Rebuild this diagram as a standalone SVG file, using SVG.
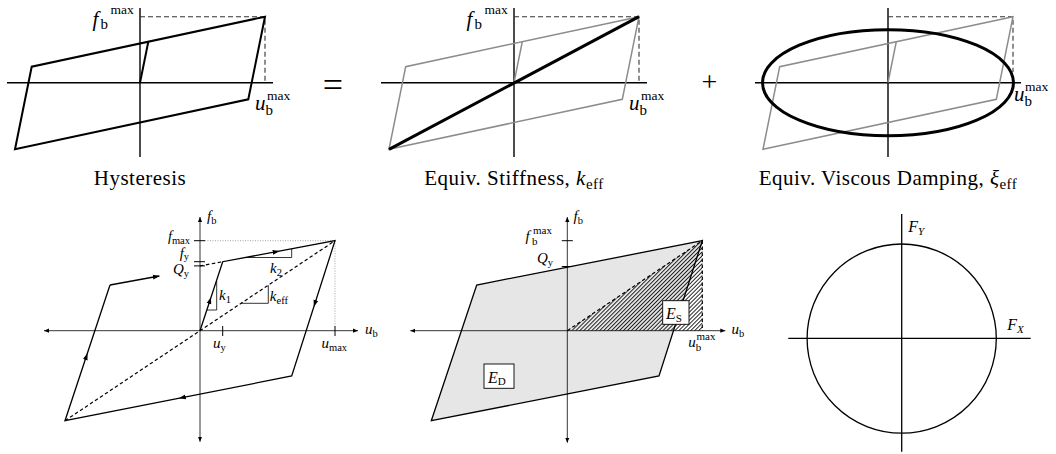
<svg xmlns="http://www.w3.org/2000/svg" width="1056" height="454" viewBox="0 0 1056 454">
<defs>
<style>
text { font-family: "Liberation Serif", "Times New Roman", serif; fill: #000; }
.it { font-style: italic; }
.cap { font-size: 21px; letter-spacing: 0.5px; }
.ax { stroke: #000; stroke-width: 1.4; fill: none; }
.loop { stroke: #000; stroke-width: 2; fill: none; }
.gray { stroke: #8c8c8c; stroke-width: 1.5; fill: none; }
.dash { stroke: #333; stroke-width: 1.1; stroke-dasharray: 5 3; fill: none; }
.thick { stroke: #000; stroke-width: 3; fill: none; }
.ax2 { stroke: #000; stroke-width: 0.8; fill: none; }
.loop2 { stroke: #000; stroke-width: 1.3; fill: none; }
.dash2 { stroke: #000; stroke-width: 1.2; stroke-dasharray: 3.5 2.5; fill: none; }
.dot { stroke: #999; stroke-width: 0.9; stroke-dasharray: 1 1.5; fill: none; }
.tick { stroke: #000; stroke-width: 1; fill: none; }
.thin { stroke: #000; stroke-width: 0.8; fill: none; }
.box { fill: #fff; stroke: #000; stroke-width: 0.9; }
</style>
<marker id="ah" markerUnits="userSpaceOnUse" markerWidth="6" markerHeight="6" refX="5" refY="3" orient="auto-start-reverse"><path d="M0,0.9 L5,3 L0,5.1 z" fill="#000"/></marker>
<marker id="am" markerUnits="userSpaceOnUse" markerWidth="8" markerHeight="8" refX="4" refY="4" orient="auto"><path d="M0,1.6 L7,4 L0,6.4 z" fill="#000"/></marker>
<marker id="ae" markerUnits="userSpaceOnUse" markerWidth="8" markerHeight="8" refX="6.5" refY="4" orient="auto"><path d="M0,1.6 L7,4 L0,6.4 z" fill="#000"/></marker>
<pattern id="hatch" patternUnits="userSpaceOnUse" width="2.8" height="2.8" patternTransform="rotate(45)"><line x1="0.5" y1="0" x2="0.5" y2="2.8" stroke="#000" stroke-width="0.85"/></pattern>
</defs>

<!-- Panel 1: Hysteresis -->
<g id="hysteresis">
<line class="ax" x1="7" y1="82.7" x2="273" y2="82.7"/>
<line class="ax" x1="140" y1="8" x2="140" y2="157"/>
<path class="dash" d="M140,16.7 H265 V82.7"/>
<polygon class="loop" points="265,16.7 248.3,99.3 15,149.3 31.7,66.7"/>
<line class="loop" x1="140" y1="82.7" x2="148.3" y2="41.7"/>
<text x="92.5" y="26" font-size="21" class="it">f</text>
<text x="100.5" y="28.5" font-size="15">b</text>
<text x="110.5" y="13.5" font-size="13.5">max</text>
<text x="255" y="110" font-size="21" class="it">u</text>
<text x="265.5" y="114.5" font-size="15">b</text>
<text x="267" y="100" font-size="13.5">max</text>
<text x="140" y="185" class="cap" text-anchor="middle">Hysteresis</text>
</g>

<text id="equals" x="333" y="96.5" font-size="36" text-anchor="middle">=</text>

<!-- Panel 2: Equivalent stiffness -->
<g id="stiffness">
<g transform="translate(374,0)">
<line class="ax" x1="7" y1="82.7" x2="273" y2="82.7"/>
<line class="ax" x1="140" y1="8" x2="140" y2="157"/>
<path class="dash" d="M140,16.7 H265 V82.7"/>
<polygon class="gray" points="265,16.7 248.3,99.3 15,149.3 31.7,66.7"/>
<line class="gray" x1="140" y1="82.7" x2="148.3" y2="41.7"/>
<line class="thick" x1="15" y1="149.3" x2="265" y2="16.7"/>
<text x="92.5" y="26" font-size="21" class="it">f</text>
<text x="100.5" y="28.5" font-size="15">b</text>
<text x="110.5" y="13.5" font-size="13.5">max</text>
<text x="255" y="110" font-size="21" class="it">u</text>
<text x="265.5" y="114.5" font-size="15">b</text>
<text x="267" y="100" font-size="13.5">max</text>
<text x="140" y="185" class="cap" text-anchor="middle">Equiv. Stiffness, <tspan class="it">k</tspan><tspan font-size="15" dy="4">eff</tspan></text>
</g>
</g>

<text id="plus" x="709.5" y="91" font-size="28" text-anchor="middle">+</text>

<!-- Panel 3: Equivalent viscous damping -->
<g id="damping">
<g transform="translate(748,0)">
<line class="ax" x1="7" y1="82.7" x2="273" y2="82.7"/>
<line class="ax" x1="140" y1="8" x2="140" y2="157"/>
<path class="dash" d="M140,16.7 H265 V72"/>
<polygon class="gray" points="265,16.7 248.3,99.3 15,149.3 31.7,66.7"/>
<line class="gray" x1="140" y1="82.7" x2="148.3" y2="41.7"/>
<ellipse class="thick" cx="140" cy="82.7" rx="125.5" ry="53"/>
<text x="266" y="101" font-size="21" class="it">u</text>
<text x="276.5" y="105.5" font-size="15">b</text>
<text x="277" y="91" font-size="13.5">max</text>
<text x="140" y="185" class="cap" text-anchor="middle">Equiv. Viscous Damping, <tspan class="it">ξ</tspan><tspan font-size="15" dy="4">eff</tspan></text>
</g>
</g>

<!-- Panel 4: bilinear hysteresis parameters -->
<g id="bilinear">
<line class="dot" x1="205" y1="240.7" x2="335" y2="240.7"/>
<line class="dot" x1="335" y1="240.7" x2="335" y2="326"/>
<line class="ax2" x1="44" y1="330.7" x2="358" y2="330.7" marker-start="url(#ah)" marker-end="url(#ah)"/>
<line class="ax2" x1="200" y1="441.7" x2="200" y2="217" marker-start="url(#ah)" marker-end="url(#ah)"/>
<line class="tick" x1="194" y1="240.7" x2="205" y2="240.7"/>
<line class="tick" x1="194" y1="261.7" x2="205" y2="261.7"/>
<line class="tick" x1="194" y1="265.9" x2="205" y2="265.9"/>
<line class="tick" x1="222.7" y1="326" x2="222.7" y2="336"/>
<line class="tick" x1="335" y1="326" x2="335" y2="336"/>
<line class="dash2" x1="65" y1="420.7" x2="335" y2="240.7"/>
<line class="dash2" x1="200" y1="265.9" x2="222.7" y2="261.7"/>
<path class="loop2" d="M200,330.7 L222.7,261.7 L335,240.7 L291.7,376 L65,420.7 L110,285"/>
<line class="loop2" x1="110" y1="285" x2="159.3" y2="276" marker-end="url(#ae)"/>
<path class="loop2" d="M209.79,300.95 L210.1,300" marker-end="url(#am)"/>
<path class="loop2" d="M275.72,251.78 L276.7,251.6" marker-end="url(#am)"/>
<path class="loop2" d="M315,303.05 L314.7,304" marker-end="url(#am)"/>
<path class="loop2" d="M182.68,397.51 L181.7,397.7" marker-end="url(#am)"/>
<path class="loop2" d="M86.19,356.95 L86.5,356" marker-end="url(#am)"/>
<path class="thin" d="M207,310 H216.7 V280.8"/>
<path class="thin" d="M245.2,257.5 H291.7 V248.8"/>
<path class="thin" d="M241.1,303.3 H268.3 V285.2"/>
<text x="207" y="221" font-size="15" class="it">f<tspan font-size="10.5" dy="3" font-style="normal">b</tspan></text>
<text x="365" y="334" font-size="15" class="it">u<tspan font-size="10.5" dy="3" font-style="normal">b</tspan></text>
<text x="190" y="241" text-anchor="end"><tspan class="it" font-size="14.5">f</tspan><tspan font-size="10.5" dy="2.5">max</tspan></text>
<text x="189" y="257.5" text-anchor="end"><tspan class="it" font-size="14.5">f</tspan><tspan font-size="10.5" dy="2.5">y</tspan></text>
<text x="189" y="274" text-anchor="end"><tspan class="it" font-size="15">Q</tspan><tspan font-size="10.5" dy="3">y</tspan></text>
<text x="213" y="348" font-size="15" class="it">u<tspan font-size="10.5" dy="3" font-style="normal">y</tspan></text>
<text x="321.5" y="348" font-size="15" class="it">u<tspan font-size="10.5" dy="3" font-style="normal">max</tspan></text>
<text x="219" y="300" font-size="15" class="it">k<tspan font-size="10.5" dy="3" font-style="normal">1</tspan></text>
<text x="270" y="272.5" font-size="15" class="it">k<tspan font-size="10.5" dy="3" font-style="normal">2</tspan></text>
<text x="269.8" y="301" font-size="15" class="it">k<tspan font-size="10.5" dy="3" font-style="normal">eff</tspan></text>
</g>

<!-- Panel 5: energy dissipated and stored -->
<g id="energy">
<g transform="translate(367.3,0)">
<polygon points="335,240.7 291.7,376 64,420.7 109.4,285" fill="#e6e6e6" stroke="none"/>
<polygon points="200,330.7 335,240.7 335,330.7" fill="url(#hatch)" stroke="none"/>
<polygon class="loop2" points="335,240.7 291.7,376 64,420.7 109.4,285"/>
<path class="dash2" d="M200,330.7 L335,240.7 L335,330.7"/>
<line class="ax2" x1="43" y1="330.7" x2="358" y2="330.7" marker-start="url(#ah)" marker-end="url(#ah)"/>
<line class="ax2" x1="200" y1="442.7" x2="200" y2="217" marker-start="url(#ah)" marker-end="url(#ah)"/>
<line class="tick" x1="194.5" y1="240.7" x2="205.5" y2="240.7"/>
<line class="tick" x1="194.5" y1="266.5" x2="205.5" y2="266.5"/>
</g>
<rect class="box" x="662.7" y="300.7" width="26.3" height="23.6"/>
<rect class="box" x="484" y="364" width="30" height="24.3"/>
<text x="666" y="319" font-size="16" class="it">E<tspan font-size="11" dy="2.5" font-style="normal">S</tspan></text>
<text x="488" y="382.5" font-size="16" class="it">E<tspan font-size="11" dy="2.5" font-style="normal">D</tspan></text>
<text x="573.5" y="221" font-size="15" class="it">f<tspan font-size="10.5" dy="3" font-style="normal">b</tspan></text>
<text x="731.5" y="334" font-size="15" class="it">u<tspan font-size="10.5" dy="3" font-style="normal">b</tspan></text>
<text x="525.5" y="241" font-size="15" class="it">f</text>
<text x="532" y="245" font-size="11">b</text>
<text x="533" y="234" font-size="11">max</text>
<text x="537" y="263" font-size="15" class="it">Q<tspan font-size="10.5" dy="3" font-style="normal">y</tspan></text>
<text x="688.3" y="347" font-size="15" class="it">u</text>
<text x="695.8" y="350.5" font-size="11">b</text>
<text x="696.5" y="340" font-size="11">max</text>
</g>

<!-- Panel 6: bidirectional interaction -->
<g id="interaction">
<line class="loop2" x1="788.3" y1="338.3" x2="1030.7" y2="338.3"/>
<line class="loop2" x1="901.7" y1="214" x2="901.7" y2="451.7"/>
<circle class="loop2" cx="901.7" cy="338.6" r="94.6"/>
<text x="908.3" y="231.7" font-size="16" class="it">F<tspan font-size="11" dy="3">Y</tspan></text>
<text x="1007.3" y="330" font-size="16" class="it">F<tspan font-size="11" dy="3">X</tspan></text>
</g>
</svg>
